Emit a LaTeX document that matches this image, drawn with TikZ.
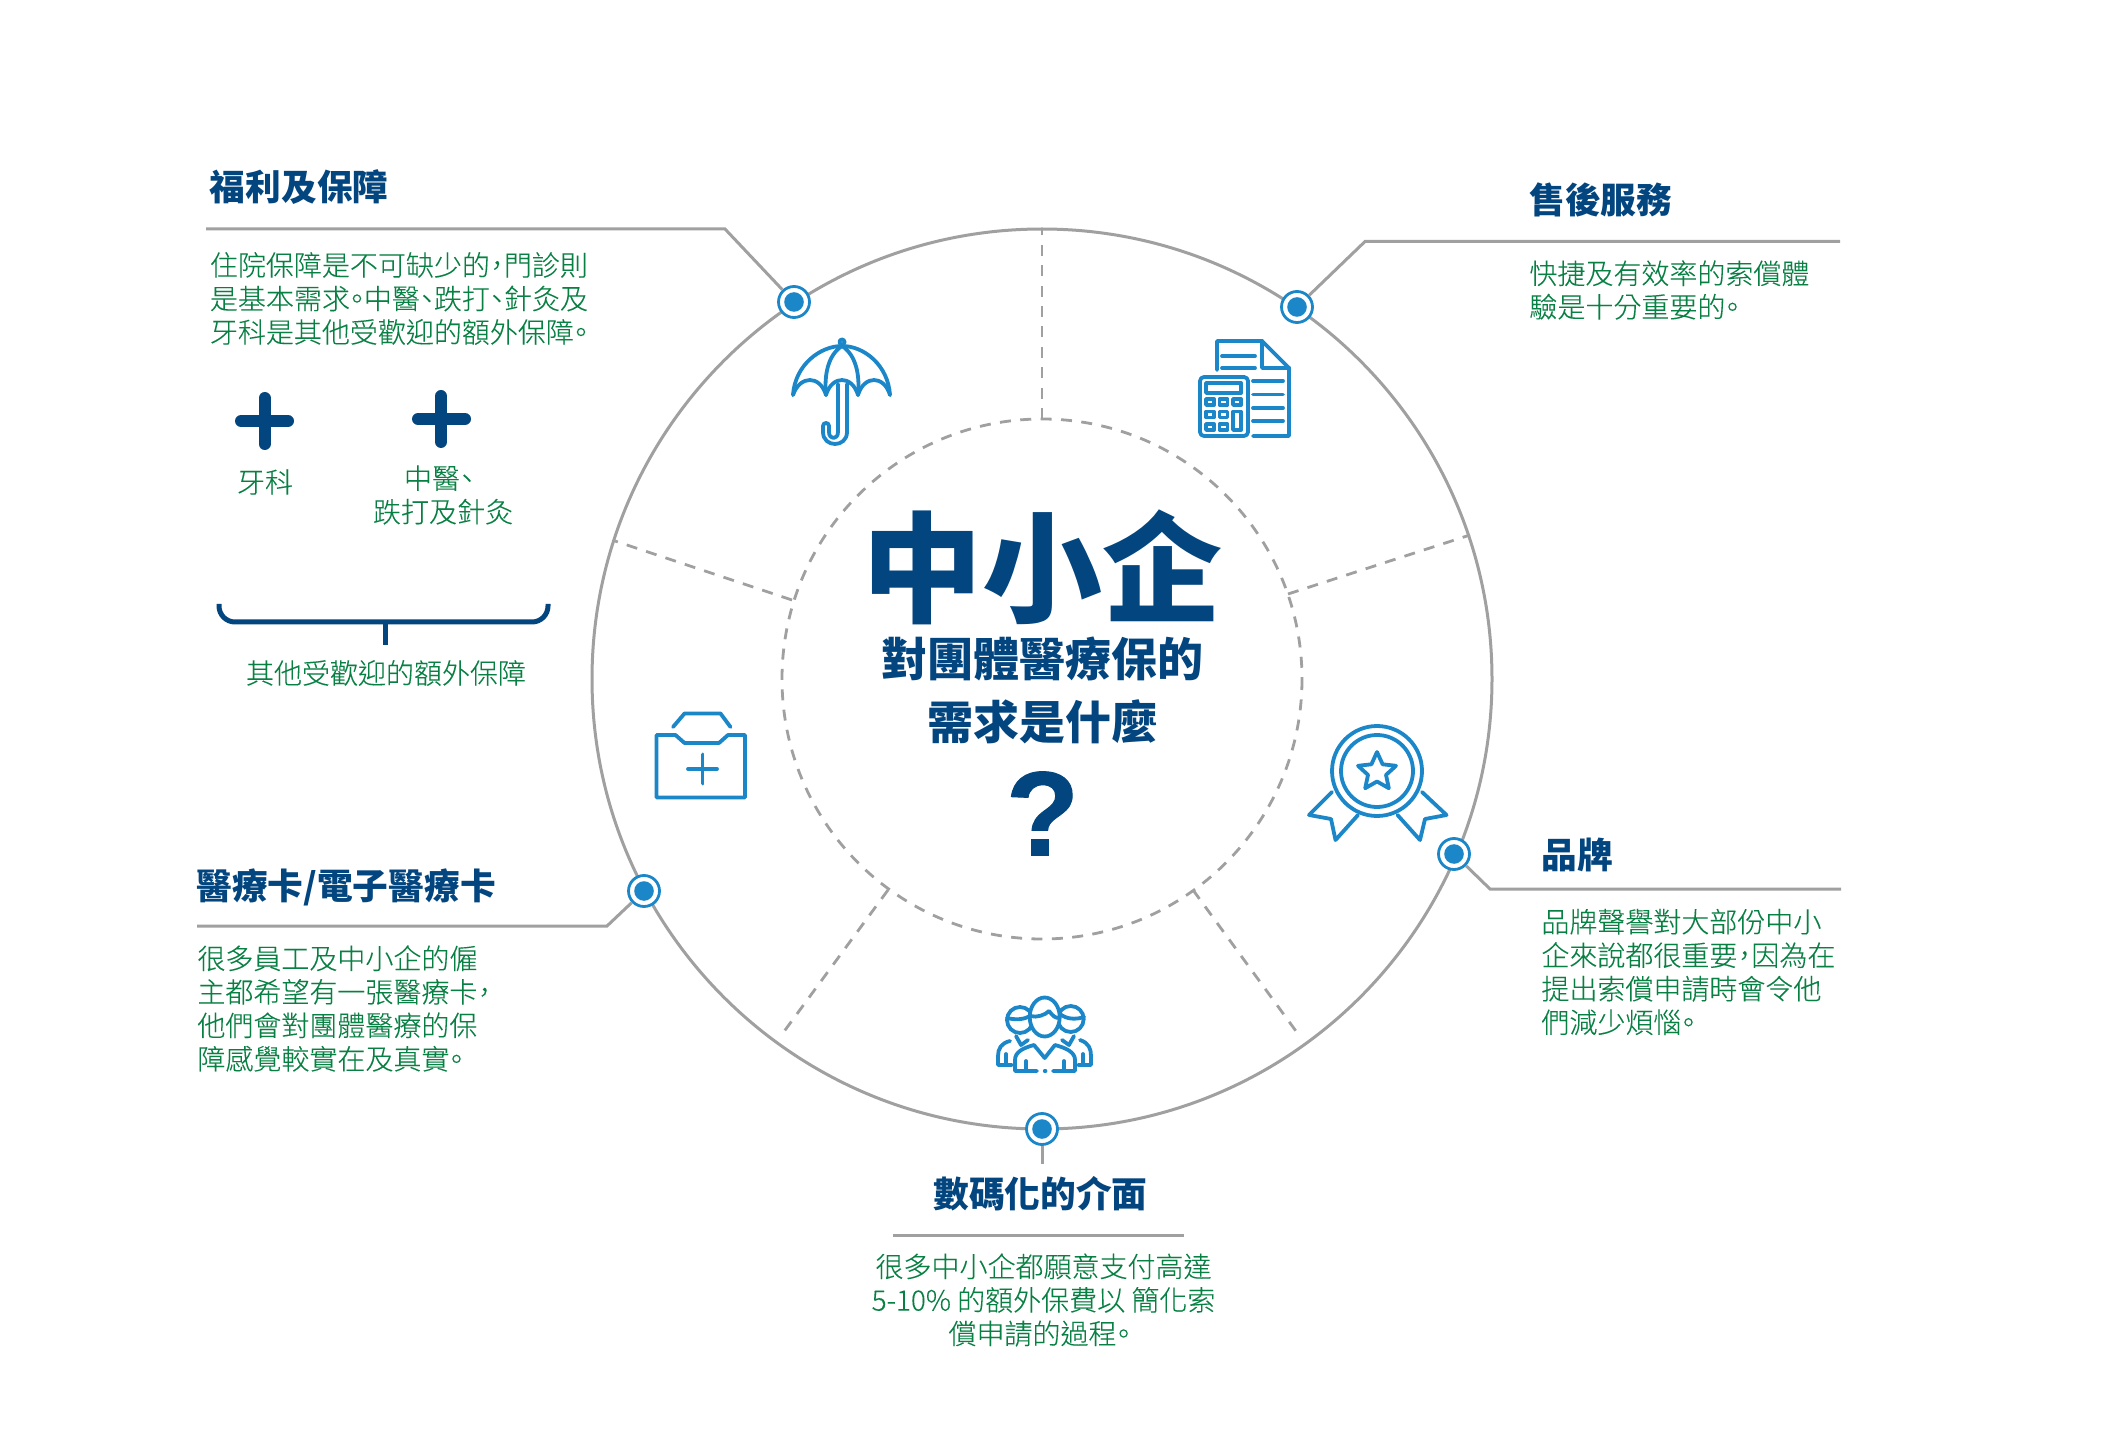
\documentclass[tikz,border=0pt]{standalone}
\usepackage{fontspec}
\setmainfont{Noto Sans CJK TC}
\newfontfamily\cjklight[RawFeature=+palt,FakeBold=0.12]{Noto Sans CJK TC Light}
\newfontfamily\markfont[FakeBold=0.8]{Liberation Sans}
\definecolor{navy}{HTML}{03467F}
\definecolor{leafgreen}{HTML}{088043}
\definecolor{iconblue}{HTML}{1B87C9}
\definecolor{ringgrey}{HTML}{A0A0A0}

\begin{document}
\begin{tikzpicture}[x=0.5pt,y=-0.5pt]

    \tikzset{headtext/.style = {inner sep=0,text=navy,font=\bfseries\fontsize{17.85}{22}\selectfont}}
    \tikzset{bodytext/.style = {inner sep=0,text=leafgreen,align=left,font=\cjklight\fontsize{14}{16.75}\selectfont}}
    \tikzset{midtext/.style = {bodytext,align=center}}
    \tikzset{pindot/.style = {shape=circle,draw=iconblue,fill=white,line width=1.4pt,inner sep=0,minimum size=15.5pt,
        path picture={\fill[iconblue] (path picture bounding box.center) circle (4.9pt);}}}
    \tikzset{leader/.style = {draw=ringgrey,line width=1.5pt}}
    \tikzset{spoke/.style = {draw=ringgrey,line width=1.4pt,dash pattern=on 5.5pt off 4.7pt}}
    \tikzset{iconline/.style = {draw=iconblue,line width=1.9pt,line join=round,line cap=round}}
    \tikzset{plusmark/.style = {draw=navy,line width=6pt,line cap=round}}
    \tikzset{bracket/.style = {draw=navy,line width=2.5pt}}

    \useasboundingbox[fill=white] (0,0) rectangle (2104,1438);

    \draw[leader] (1042,679) circle (450);
    \draw[spoke] (1042,679) circle (260);

    \coordinate (topa) at (1042,419);
    \coordinate (topb) at (1042,230);
    \coordinate (lefta) at (792,600);
    \coordinate (leftb) at (615,541);
    \coordinate (righta) at (1288,594);
    \coordinate (rightb) at (1470,535);
    \coordinate (lowla) at (888,890);
    \coordinate (lowlb) at (780,1037);
    \coordinate (lowra) at (1193,890);
    \coordinate (lowrb) at (1301,1038);
    \draw[spoke] (topa) -- (topb);
    \draw[spoke] (lefta) -- (leftb);
    \draw[spoke] (righta) -- (rightb);
    \draw[spoke] (lowla) -- (lowlb);
    \draw[spoke] (lowra) -- (lowrb);

    \node[pindot] (pin1) at (794,302) {};
    \node[pindot] (pin2) at (1297,307) {};
    \node[pindot] (pin3) at (1454,854) {};
    \node[pindot] (pin4) at (1042,1129) {};
    \node[pindot] (pin5) at (644,891) {};

    \coordinate (benefitend) at (206,229);
    \coordinate (benefitknee) at (725,229);
    \coordinate (serviceend) at (1840,241.5);
    \coordinate (serviceknee) at (1365,241.5);
    \coordinate (brandend) at (1841,889);
    \coordinate (brandknee) at (1490,889);
    \coordinate (digitalstem) at (1042,1164);
    \coordinate (ruleleft) at (893,1235);
    \coordinate (ruleright) at (1184,1235);
    \coordinate (cardend) at (197,926);
    \coordinate (cardknee) at (607,926);
    \draw[leader] (benefitend) -- (benefitknee) -- (pin1);
    \draw[leader] (serviceend) -- (serviceknee) -- (pin2);
    \draw[leader] (brandend) -- (brandknee) -- (pin3);
    \draw[leader] (digitalstem) -- (pin4);
    \draw[leader] (ruleleft) -- (ruleright);
    \draw[leader] (cardend) -- (cardknee) -- (pin5);

    \node[inner sep=0,text=navy,font=\bfseries\fontsize{60}{60}\selectfont] (title) at (1042.5,567) {中小企};
    \node[inner sep=0,text=navy,font=\bfseries\fontsize{23}{23}\selectfont] (sub1) at (1042.5,659) {對團體醫療保的};
    \node[inner sep=0,text=navy,font=\bfseries\fontsize{23}{23}\selectfont] (sub2) at (1042.5,722) {需求是什麼};
    \node[inner sep=0,text=navy,font=\markfont\bfseries\fontsize{60}{60}\selectfont] (mark) at (1042.5,813.5) {?};

    \node[headtext,anchor=west] (benefithead) at (209.5,187.5) {福利及保障};
    \node[bodytext,anchor=west] (benefitbody) at (209.5,298.5) {住院保障是不可缺少的，門診則\\是基本需求。中醫、跌打、針灸及\\牙科是其他受歡迎的額外保障。};
    \node[headtext,anchor=west] (servicehead) at (1529,200) {售後服務};
    \node[bodytext,anchor=west] (servicebody) at (1529,290) {快捷及有效率的索償體\\驗是十分重要的。};
    \node[headtext,anchor=west] (brandhead) at (1541,855) {品牌};
    \node[bodytext,anchor=west] (brandbody) at (1541,972) {品牌聲譽對大部份中小\\企來說都很重要，因為在\\提出索償申請時會令他\\們減少煩惱。};
    \node[headtext] (digitalhead) at (1040.5,1193.5) {數碼化的介面};
    \node[midtext] (digitalbody) at (1043.5,1300) {很多中小企都願意支付高達\\5-10\% 的額外保費以 簡化索\\償申請的過程。\kern4pt};
    \node[headtext,anchor=west] (cardhead) at (196,887) {醫療卡/電子醫療卡};
    \node[bodytext,anchor=west] (cardbody) at (197,1008.5) {很多員工及中小企的僱\\主都希望有一張醫療卡，\\他們會對團體醫療的保\\障感覺較實在及真實。};

    \draw[plusmark] (241,421) -- (288,421);
    \draw[plusmark] (264.5,398) -- (264.5,444);
    \draw[plusmark] (418,419) -- (465,419);
    \draw[plusmark] (441,396) -- (441,442);
    \node[midtext] (dental) at (265,482) {牙科};
    \node[midtext] (chinese) at (443,495) {中醫、\kern4pt\\跌打及針灸};
    \draw[bracket,rounded corners=8pt] (219,604) -- (219,622) -- (548,622) -- (548,604);
    \coordinate (stemtop) at (385,622);
    \coordinate (stembot) at (385,645);
    \draw[bracket] (stemtop) -- (stembot);
    \node[midtext] (popular) at (386,673) {其他受歡迎的額外保障};

    % umbrella
    \draw[iconline] (793,395) .. controls (795,365) and (820,346) .. (842,346) .. controls (864,346) and (888,365) .. (890,395);
    \draw[iconline] (793,395) .. controls (800,375) and (820,375) .. (826,395) .. controls (832,375) and (852,375) .. (858,395) .. controls (864,375) and (884,375) .. (890,395);
    \draw[iconline] (842,346) .. controls (828,355) and (824,375) .. (826,395);
    \draw[iconline] (842,346) .. controls (856,355) and (860,375) .. (858,395);
    \draw[iconline] (842,342) circle (2.5);
    \draw[iconline] (847,384) -- (847,432) .. controls (847,448) and (823,448) .. (823,432) -- (823,426) .. controls (823,422) and (829,422) .. (829,426) -- (829,432) .. controls (829,440) and (838,440) .. (838,432) -- (838,384);

    % calculator and paper
    \draw[iconline] (1217,370) -- (1217,341) -- (1262,341) -- (1289,368) -- (1289,436) -- (1253,436);
    \draw[iconline] (1262,341) -- (1262,368) -- (1289,368);
    \draw[iconline] (1222,356) -- (1255,356);
    \draw[iconline] (1222,368) -- (1255,368);
    \foreach \y in {381,394.5,408,421}
        \draw[iconline] (1253,\y) -- (1283,\y);
    \draw[iconline,rounded corners=2pt] (1200,377) rectangle (1248,436);
    \draw[iconline] (1206,383) rectangle (1241,393);
    \foreach \x in {1206,1219.5}
        \foreach \y in {399,411.5,424}
            \draw[iconline] (\x,\y) rectangle +(8,6);
    \draw[iconline] (1233,399) rectangle +(8,6);
    \draw[iconline] (1233,411.5) rectangle (1241,430);

    % medal
    \draw[iconline] (1377,771) circle (45);
    \draw[iconline] (1377,771) circle (36);
    \draw[iconline] (1377,752) -- (1382.6,764.3) -- (1396,765.8) -- (1386,774.9) -- (1388.8,788.2) -- (1377,781.5) -- (1365.2,788.2) -- (1368,774.9) -- (1358,765.8) -- (1371.4,764.3) -- cycle;
    \draw[iconline] (1332,792) -- (1309,815) -- (1331,819) -- (1335.5,840) -- (1358,815);
    \draw[iconline] (1422,792) -- (1446.5,815) -- (1425,819) -- (1420,840) -- (1397.5,815);

    % people
    \draw[iconline] (1020,1020) circle (13);
    \draw[iconline] (1070.7,1019) circle (13);
    \draw[iconline] (1007,1018) .. controls (1015,1020) and (1025,1020) .. (1031,1015);
    \draw[iconline] (1084,1017) .. controls (1075,1020) and (1066,1019) .. (1060,1014);
    \draw[iconline,fill=white] (1044.7,1017) ellipse (15 and 19.5);
    \draw[iconline] (1030,1016) .. controls (1037,1018) and (1045,1015) .. (1049,1011) .. controls (1053,1016) and (1055,1018) .. (1059,1018);
    \draw[iconline] (1010,1041) .. controls (1001,1043) and (998,1049) .. (998,1056) -- (998,1065) -- (1012,1065);
    \draw[iconline] (1080,1040) .. controls (1089,1043) and (1091,1049) .. (1091,1056) -- (1091,1065) -- (1078,1065);
    \draw[iconline] (1006,1054) -- (1006,1065);
    \draw[iconline] (1083,1054) -- (1083,1065);
    \draw[iconline] (1016,1036) -- (1021,1045) -- (1028,1040);
    \draw[iconline] (1074,1036) -- (1069,1045) -- (1062,1040);
    \draw[iconline] (1037,1071) -- (1015,1071) -- (1015,1060) .. controls (1015,1052) and (1023,1048) .. (1034,1045) -- (1044.7,1058) -- (1055,1045) .. controls (1066,1048) and (1075,1052) .. (1075,1060) -- (1075,1071) -- (1053,1071);
    \draw[iconline] (1026,1061) -- (1026,1071);
    \draw[iconline] (1064,1061) -- (1064,1071);
    \draw[iconline] (1044.7,1071) -- (1045.5,1071);

    % medical box
    \draw[iconline] (673,727) -- (684.5,713.5) -- (720.5,713.5) -- (730.5,727);
    \draw[iconline] (656.5,735) -- (675.5,735) -- (684.5,743) -- (719,743) -- (728,735) -- (745,735) -- (745,797.5) -- (656.5,797.5) -- cycle;
    \draw[iconline] (688,769) -- (717,769);
    \draw[iconline] (702.5,754.5) -- (702.5,783.5);

\end{tikzpicture}
\end{document}
